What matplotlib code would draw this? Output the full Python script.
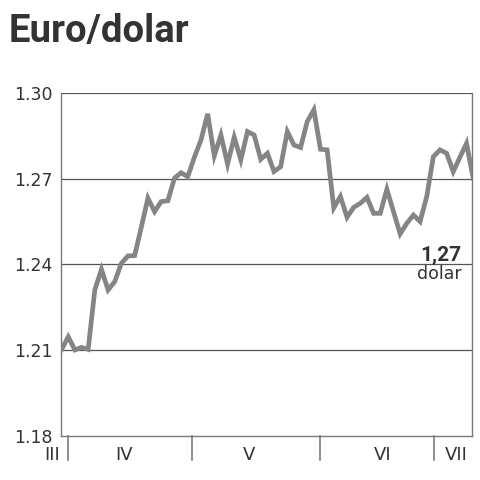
import matplotlib.pyplot as plt
import numpy as np

plt.rcParams["font.family"] = ["DejaVu Sans"]

TITLE = "Euro/dolar"

# daily euro/dollar rate, late March to early July
rate = [
    1.2103, 1.2147, 1.2101, 1.2110, 1.2103, 1.2311, 1.2383, 1.2311, 1.2340, 1.2404,
    1.2430, 1.2431, 1.2530, 1.2632, 1.2585, 1.2620, 1.2623, 1.2702, 1.2721, 1.2707,
    1.2775, 1.2836, 1.2927, 1.2780, 1.2853, 1.2751, 1.2845, 1.2766, 1.2865, 1.2853,
    1.2768, 1.2789, 1.2725, 1.2742, 1.2865, 1.2818, 1.2809, 1.2900, 1.2941, 1.2803,
    1.2801, 1.2598, 1.2638, 1.2565, 1.2600, 1.2614, 1.2635, 1.2579, 1.2579, 1.2663,
    1.2585, 1.2507, 1.2544, 1.2573, 1.2550, 1.2637, 1.2777, 1.2801, 1.2789, 1.2725,
    1.2775, 1.2824, 1.2702,
]

y_ticks = [1.18, 1.21, 1.24, 1.27, 1.30]
y_tick_labels = ["1.18", "1.21", "1.24", "1.27", "1.30"]

month_breaks = [0.95, 19.6, 39.0, 56.1]
month_names = ["III", "IV", "V", "VI", "VII"]
month_centers = [-1.5, 9.4, 28.3, 48.3, 59.4]

last_label = "1,27"
unit_label = "dolar"

LINE_COLOR = "#858585"
TEXT_COLOR = "#333333"
AXIS_COLOR = "#7a7a7a"

fig = plt.figure(figsize=(4.8, 4.8), dpi=100)
ax = fig.add_axes([0.127, 0.0917, 0.856, 0.7146])

x = np.arange(len(rate))
ax.plot(x, rate, color=LINE_COLOR, lw=3.4, solid_joinstyle="miter", zorder=3)

ax.set_xlim(-0.1, 61.8)
ax.set_ylim(1.18, 1.30)

ax.set_yticks(y_ticks)
ax.set_yticklabels(y_tick_labels, fontsize=12.5, color=TEXT_COLOR)
ax.tick_params(axis="y", length=0, pad=6)
ax.set_xticks([])

for v in y_ticks[1:]:
    ax.axhline(v, color="#555555", lw=0.9, zorder=1)

for side in ["left", "right", "bottom"]:
    ax.spines[side].set_color(AXIS_COLOR)
    ax.spines[side].set_linewidth(1.0)
ax.spines["top"].set_visible(False)

# month separators below the axis
for xb in month_breaks:
    ax.plot([xb, xb], [0, -0.07], transform=ax.get_xaxis_transform(),
            color=AXIS_COLOR, lw=1.2, clip_on=False)
for xc, name in zip(month_centers, month_names):
    ax.text(xc, -0.055, name, transform=ax.get_xaxis_transform(),
            ha="center", va="center", fontsize=13, color=TEXT_COLOR)

ax.text(60.2, 1.2413, last_label, ha="right", va="baseline",
        fontsize=15, fontweight="bold", color=TEXT_COLOR,
        family=["Roboto", "DejaVu Sans"])
ax.text(60.2, 1.2368, unit_label, ha="right", va="center",
        fontsize=12.5, color=TEXT_COLOR)

fig.text(0.017, 0.935, TITLE, ha="left", va="center", fontsize=27.5,
         fontweight="bold", color=TEXT_COLOR, family=["Roboto", "DejaVu Sans"])

fig.savefig("out.png", dpi=100)
